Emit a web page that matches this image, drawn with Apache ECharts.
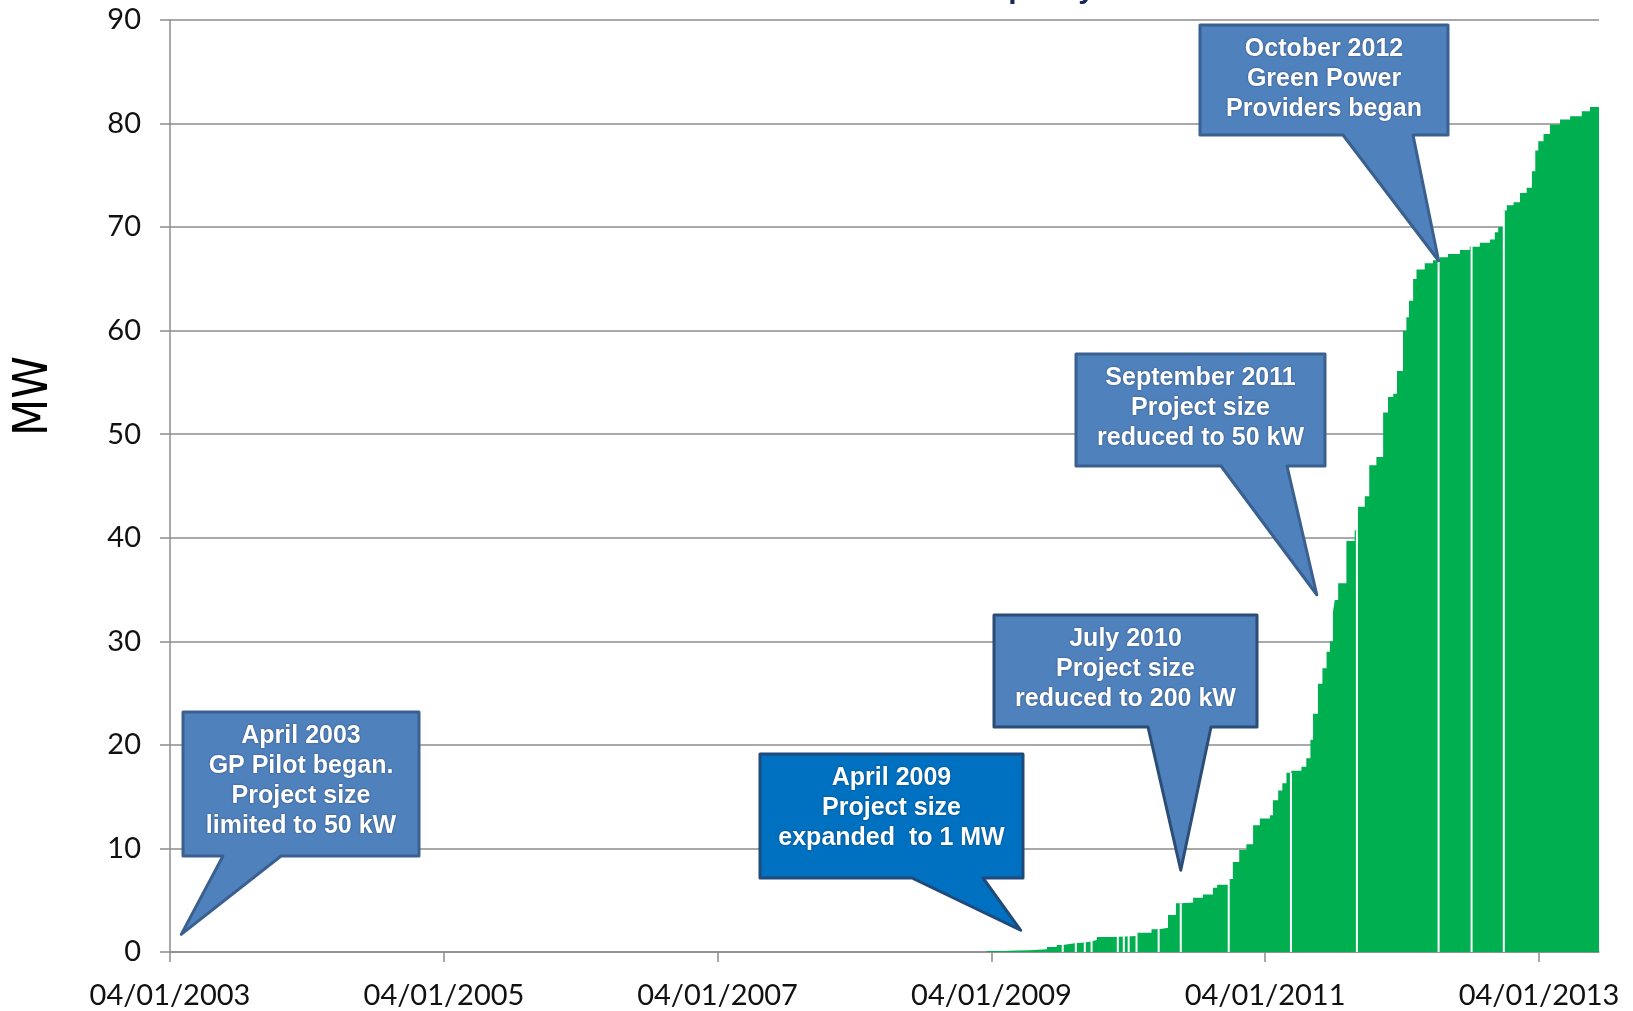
<!DOCTYPE html>
<html>
<head>
<meta charset="utf-8">
<title>Installed Capacity</title>
<script src="https://cdn.jsdelivr.net/npm/echarts@6/dist/echarts.min.js"></script>
<style>
html, body { margin: 0; padding: 0; background: #fff; }
#chart { width: 1633px; height: 1011px; }
</style>
</head>
<body>
<div id="chart"></div>
<script>
// cumulative installed capacity (MW); each value holds from its date to the next one
var capDates = [
    '2009-03-19', '2009-05-01', '2009-06-07', '2009-07-12', '2009-08-27', '2009-09-22', '2009-10-08', '2009-11-09', '2009-11-28', '2009-12-19',
    '2010-01-07', '2010-02-19', '2010-04-23', '2010-06-02', '2010-06-22', '2010-07-16', '2010-08-06', '2010-08-21', '2010-09-21', '2010-10-17',
    '2010-11-13', '2010-11-24', '2010-12-23', '2011-01-05', '2011-01-22', '2011-02-10', '2011-02-28', '2011-03-18', '2011-04-14', '2011-04-22',
    '2011-05-06', '2011-05-17', '2011-05-28', '2011-06-10', '2011-07-07', '2011-07-20', '2011-07-31', '2011-08-07', '2011-08-20', '2011-09-01',
    '2011-09-12', '2011-09-21', '2011-09-29', '2011-10-04', '2011-10-13', '2011-11-04', '2011-11-26', '2011-12-05', '2011-12-23', '2012-01-04',
    '2012-01-23', '2012-02-10', '2012-02-23', '2012-03-08', '2012-03-18', '2012-04-03', '2012-04-12', '2012-04-19', '2012-04-30', '2012-05-09',
    '2012-05-31', '2012-06-22', '2012-07-10', '2012-08-01', '2012-09-02', '2012-09-28', '2012-10-25', '2012-11-21', '2012-12-04', '2012-12-13',
    '2012-12-26', '2013-01-05', '2013-01-23', '2013-02-09', '2013-02-27', '2013-03-13', '2013-03-22', '2013-03-30', '2013-04-13', '2013-04-30',
    '2013-05-27', '2013-06-23', '2013-07-24', '2013-08-15', '2013-09-08'
]
var capValues = [
    0.10, 0.15, 0.18, 0.26, 0.48, 0.68, 0.84, 0.90, 1.00, 1.16,
    1.45, 1.55, 1.86, 2.20, 2.35, 3.57, 4.70, 4.77, 5.24, 5.56,
    6.20, 6.50, 7.04, 8.70, 9.84, 10.40, 12.25, 12.90, 13.20, 14.66,
    15.60, 16.30, 17.30, 17.50, 17.90, 18.70, 20.50, 23.00, 25.90, 27.40,
    29.00, 30.00, 32.80, 34.00, 35.60, 39.70, 40.70, 43.00, 44.00, 47.00,
    47.80, 52.10, 53.60, 53.90, 56.10, 60.00, 61.30, 62.90, 65.00, 65.90,
    66.50, 66.80, 67.10, 67.40, 67.80, 68.10, 68.50, 68.80, 69.50, 70.00,
    71.60, 72.10, 72.40, 73.30, 73.80, 75.40, 77.40, 78.30, 79.00, 79.90,
    80.40, 80.70, 81.20, 81.60, 81.60
]
// days with no data point: they show up as thin white gaps in the columns
var gapDates = [
    '2009-10-08', '2009-11-12', '2009-12-06', '2009-12-24', '2010-03-04', '2010-03-20', '2010-04-02', '2010-04-23',
    '2010-06-21', '2010-08-19', '2010-12-25', '2011-06-09', '2011-12-02', '2012-07-07', '2012-10-03', '2012-12-28'
]
var tickDates = ['2003-04-01', '2005-04-01', '2007-04-01', '2009-04-01', '2011-04-01', '2013-04-01']
var xStart = '2003-04-01'
var xEnd = '2013-09-08'
var yMin = 0
var yMax = 90
var yStep = 10

// callouts: text and the [date, MW] point the pointer ends on
var calloutTexts = [
    'April 2003\nGP Pilot began.\nProject size\nlimited to 50 kW',
    'April 2009\nProject size\nexpanded  to 1 MW',
    'July 2010\nProject size\nreduced to 200 kW',
    'September 2011\nProject size\nreduced to 50 kW',
    'October 2012\nGreen Power\nProviders began'
]
var calloutTips = [
    ['2003-05-01', 1.7],
    ['2009-06-18', 2.1],
    ['2010-08-19', 7.9],
    ['2011-08-17', 34.5],
    ['2012-07-07', 66.75]
]

// box layout (pixels) for each callout
var calloutBoxes = [
    { x: 183, y: 712, w: 236, h: 144, baseL: 223, baseR: 281, fill: '#4F81BD', stroke: '#3A6090' },
    { x: 760, y: 754, w: 263, h: 124, baseL: 912, baseR: 983, fill: '#0070C0', stroke: '#1F4A7A' },
    { x: 994, y: 615, w: 263, h: 112, baseL: 1148, baseR: 1211, fill: '#4F81BD', stroke: '#2C4D75' },
    { x: 1076, y: 354, w: 249, h: 112, baseL: 1221, baseR: 1287, fill: '#4F81BD', stroke: '#3A6090' },
    { x: 1200, y: 25, w: 248, h: 110, baseL: 1343, baseR: 1413, fill: '#4F81BD', stroke: '#3A6090' }
]

function ts(s) {
    var p = s.split('-')
    return new Date(+p[0], +p[1] - 1, +p[2]).getTime()
}

function pad(n) {
    return n < 10 ? '0' + n : '' + n
}

function valueAt(t) {
    var v = 0
    for (var i = 0; i < capDates.length; i++) {
        if (ts(capDates[i]) <= t) v = capValues[i]
    }
    return v
}

var capData = capDates.map(function (d, i) { return [ts(d), capValues[i]] })
var gapData = gapDates.map(function (d) { return [ts(d), valueAt(ts(d))] })
var tickValues = tickDates.map(ts)

var chart = echarts.init(document.getElementById('chart'))
var labelFont = 'Lato, "Open Sans", sans-serif'

var option = {
    animation: false,
    backgroundColor: '#fff',
    title: {
        text: 'Installed Capacity',
        right: 533,
        top: -30,
        textStyle: { fontSize: 30, fontWeight: 'bold', color: '#17295a', fontFamily: '"Liberation Sans", Arial, sans-serif' }
    },
    grid: { left: 170, right: 34, top: 20, bottom: 59 },
    xAxis: {
        // dates as timestamps on a value axis, so the ticks can sit on 04/01
        type: 'value',
        min: ts(xStart),
        max: ts(xEnd),
        axisLine: { show: true, lineStyle: { color: '#8c8c8c', width: 1.5 } },
        axisTick: { show: true, length: 10, customValues: tickValues, lineStyle: { color: '#8c8c8c', width: 1.5 } },
        axisLabel: {
            customValues: tickValues,
            margin: 29,
            fontSize: 29,
            fontFamily: labelFont,
            color: '#111',
            formatter: function (v) {
                var d = new Date(v)
                return pad(d.getMonth() + 1) + '/' + pad(d.getDate()) + '/' + d.getFullYear()
            }
        },
        splitLine: { show: false }
    },
    yAxis: {
        type: 'value',
        min: yMin,
        max: yMax,
        interval: yStep,
        axisLine: { show: true, lineStyle: { color: '#8c8c8c', width: 1.5 } },
        axisTick: { show: true, length: 10, lineStyle: { color: '#8c8c8c', width: 1.5 } },
        axisLabel: { margin: 29, fontSize: 29, fontFamily: labelFont, color: '#111' },
        splitLine: { show: true, lineStyle: { color: '#8c8c8c', width: 1.5 } }
    },
    series: [
        {
            name: 'MW',
            type: 'line',
            step: 'end',
            data: capData,
            symbol: 'none',
            lineStyle: { width: 0 },
            areaStyle: { color: '#00B050', opacity: 1 },
            z: 2
        },
        {
            name: 'gaps',
            type: 'bar',
            data: gapData,
            barWidth: 2,
            itemStyle: { color: '#ffffff' },
            z: 3
        }
    ]
}
chart.setOption(option)

// callout shapes, pointer ends placed through the axes
var graphics = []
calloutBoxes.forEach(function (b, i) {
    var tip = chart.convertToPixel({ gridIndex: 0 }, [ts(calloutTips[i][0]), calloutTips[i][1]])
    var bottom = b.y + b.h
    graphics.push({
        type: 'polygon',
        z: 100,
        shape: {
            points: [[b.x, b.y], [b.x + b.w, b.y], [b.x + b.w, bottom], [b.baseR, bottom], tip, [b.baseL, bottom], [b.x, bottom]]
        },
        style: { fill: b.fill, stroke: b.stroke, lineWidth: 3, lineJoin: 'round' }
    })
    graphics.push({
        type: 'text',
        z: 101,
        x: b.x + b.w / 2,
        y: b.y + 9,
        style: {
            text: calloutTexts[i],
            align: 'center',
            verticalAlign: 'top',
            fontSize: 25,
            fontWeight: 'bold',
            fontFamily: '"Liberation Sans", Arial, sans-serif',
            lineHeight: 30,
            fill: '#ffffff',
            textShadowColor: 'rgba(0,0,0,0.45)',
            textShadowBlur: 2
        }
    })
})
graphics.push({
    type: 'text',
    x: 35,
    y: 396,
    rotation: Math.PI / 2,
    style: {
        text: 'MW',
        align: 'center',
        verticalAlign: 'middle',
        fontSize: 48,
        fontFamily: '"Liberation Sans Narrow", "DejaVu Sans Condensed", sans-serif',
        fill: '#000'
    }
})
chart.setOption({ graphic: graphics })
</script>
</body>
</html>
